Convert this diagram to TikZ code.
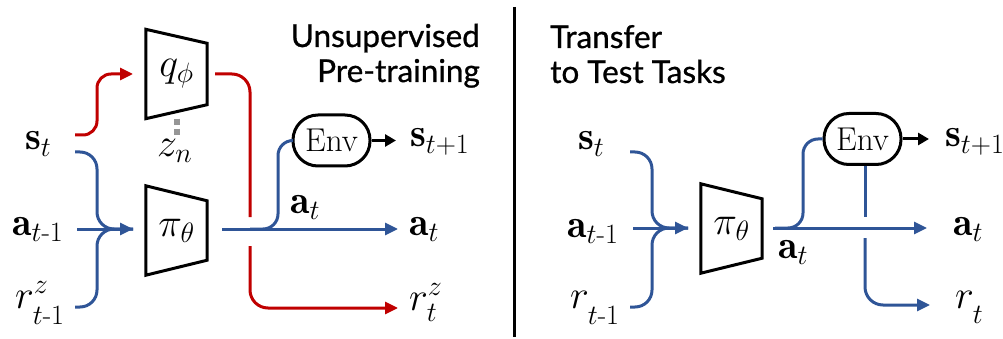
\documentclass[tikz,border=0pt]{standalone}
\usepackage{fix-cm}
\usepackage{amsmath}
\usepackage{fontspec}
\newfontfamily\titlefont[FakeBold=0.8]{Lato}
\usetikzlibrary{arrows.meta}
\definecolor{myblue}{RGB}{47,85,151}
\definecolor{myred}{RGB}{192,0,0}
\definecolor{dotgray}{RGB}{150,150,150}
\newcommand\lowsub[2]{\raisebox{-#1}{$\scriptstyle #2$}}
\begin{document}
\begin{tikzpicture}[x=1pt,y=-1pt,
  lbl/.style={inner sep=0pt,anchor=base west,font=\fontsize{40}{48}\selectfont},
  ttl/.style={inner sep=0pt,font=\titlefont\fontsize{31.5}{36}\selectfont},
  trapbox/.style={inner sep=0pt,minimum width=61pt,minimum height=89pt,font=\fontsize{40}{48}\selectfont},
  trap/.style={draw=black,line width=3pt,line join=miter},
  envbox/.style={draw=black,line width=3pt,rounded corners=25pt,minimum width=77pt,minimum height=51pt,inner sep=0pt,font=\fontsize{33}{38}\selectfont},
  tip/.style={-{Triangle[length=13pt,width=12pt]}},
  bline/.style={draw=myblue,line width=3pt},
  rline/.style={draw=myred,line width=3pt},
  kline/.style={draw=black,line width=3pt}]
\useasboundingbox (0,0) rectangle (1003,339);

% ---------- left panel ----------
\node[ttl,anchor=base east] (t1) at (480,47) {Unsupervised};
\node[ttl,anchor=base east] (t2) at (480,82) {Pre-training};

\node[lbl] (st) at (25,150) {$\mathbf{s}_t$};
\node[lbl] (atm) at (12,235) {$\mathbf{a}_{t\text{-}1}$};
\node[lbl] (rtm) at (15,308) {$r^z_{\lowsub{7pt}{t\text{-}1}}$};

\node[trapbox] (q) at (176.5,74) {$q_\phi$};
\draw[trap] (q.north west) -- ([yshift=-14pt]q.north east) -- ([yshift=14pt]q.south east) -- (q.south west) -- cycle;
\node[trapbox] (pi) at (176.5,230.5) {$\pi_\theta$};
\draw[trap] (pi.north west) -- ([yshift=-15pt]pi.north east) -- ([yshift=15pt]pi.south east) -- (pi.south west) -- cycle;

\node[lbl] (zn) at (157,157) {$z_n$};
\draw[dotgray,line width=6pt,dash pattern=on 6pt off 4pt] (q.south) -- ([yshift=-16pt]q.south);

\node[envbox] (env) at (331.5,140.5) {Env};
\node[lbl] (s1) at (410,147) {$\mathbf{s}_{t+1}$};
\node[lbl] (at) at (409,235) {$\mathbf{a}_t$};
\node[lbl] (rt) at (409,310) {$r^z_{\lowsub{2pt}{t}}$};
\node[lbl] (atl) at (290,213) {$\mathbf{a}_t$};

\coordinate (sr) at (75,135);
\coordinate (sb) at (75,152);
\coordinate (ab) at (77,229);
\coordinate (rb) at (75,307);
\coordinate (pin) at (133,229);
\coordinate (qin) at (133,74);
\coordinate (qout) at (215,74);
\coordinate (g1) at (250,217);
\coordinate (g2) at (250,246);
\coordinate (rzin) at (398,308);
\coordinate (pout) at (222,229);
\coordinate (aout) at (398,229);
\coordinate (br) at (250,229);
\coordinate (s1in) at (396,140.5);

\draw[rline,tip,rounded corners=14pt] (sr) -| (97,100) |- (qin);
\draw[rline,rounded corners=18pt] (qout) -| (g1);
\draw[rline,tip,rounded corners=18pt] (g2) |- (rzin);

\draw[bline,rounded corners=17pt] (sb) -| (97,229) -- (pin);
\draw[bline,rounded corners=17pt] (rb) -| (97,229) -- (pin);
\draw[bline,tip] (ab) -- (pin);

\draw[bline,tip] (pout) -- (aout);
\draw[bline,rounded corners=15pt] (br) -| (278,140.5) -- (env.west);
\draw[kline,-{Triangle[length=11pt,width=12pt]}] (env.east) -- (s1in);

% ---------- divider ----------
\coordinate (dtop) at (514,7);
\coordinate (dbot) at (514,337);
\draw[kline] (dtop) -- (dbot);

% ---------- right panel ----------
\node[ttl,anchor=base west] (t3) at (550,48) {Transfer};
\node[ttl,anchor=base west] (t4) at (550,83) {to Test Tasks};

\node[lbl] (Rst) at (578,150) {$\mathbf{s}_t$};
\node[lbl] (Ratm) at (567,237) {$\mathbf{a}_{t\text{-}1}$};
\node[lbl] (Rrtm) at (570,308) {$r_{\lowsub{10pt}{t\text{-}1}}$};

\node[trapbox] (Rpi) at (731.5,228.5) {$\pi_\theta$};
\draw[trap] (Rpi.north west) -- ([yshift=-15pt]Rpi.north east) -- ([yshift=15pt]Rpi.south east) -- (Rpi.south west) -- cycle;

\node[envbox] (Renv) at (862.5,139) {Env};
\node[lbl] (Rs1) at (945,147) {$\mathbf{s}_{t+1}$};
\node[lbl] (Rat) at (953,235) {$\mathbf{a}_t$};
\node[lbl] (Rrt) at (955,308) {$r_{\lowsub{9pt}{t}}$};
\node[lbl] (Ratl) at (778,258) {$\mathbf{a}_t$};

\coordinate (Rsb) at (630,152);
\coordinate (Rab) at (633,228);
\coordinate (Rrb) at (630,307);
\coordinate (Rpin) at (688,228);
\coordinate (Rpout) at (773,228);
\coordinate (Raout) at (927,228);
\coordinate (Rbr) at (775,228);
\coordinate (Rg1) at (865,217);
\coordinate (Rg2) at (865,238);
\coordinate (Rrin) at (930,305);
\coordinate (Rs1in) at (929,139);

\draw[bline,rounded corners=17pt] (Rsb) -| (652,228) -- (Rpin);
\draw[bline,rounded corners=17pt] (Rrb) -| (652,228) -- (Rpin);
\draw[bline,tip] (Rab) -- (Rpin);

\draw[bline,tip] (Rpout) -- (Raout);
\draw[bline,rounded corners=15pt] (Rbr) -| (803,139) -- (Renv.west);
\draw[kline,-{Triangle[length=11pt,width=12pt]}] (Renv.east) -- (Rs1in);
\draw[bline] (Renv.south -| Rg1) -- (Rg1);
\draw[bline,tip,rounded corners=18pt] (Rg2) |- (Rrin);
\end{tikzpicture}
\end{document}
